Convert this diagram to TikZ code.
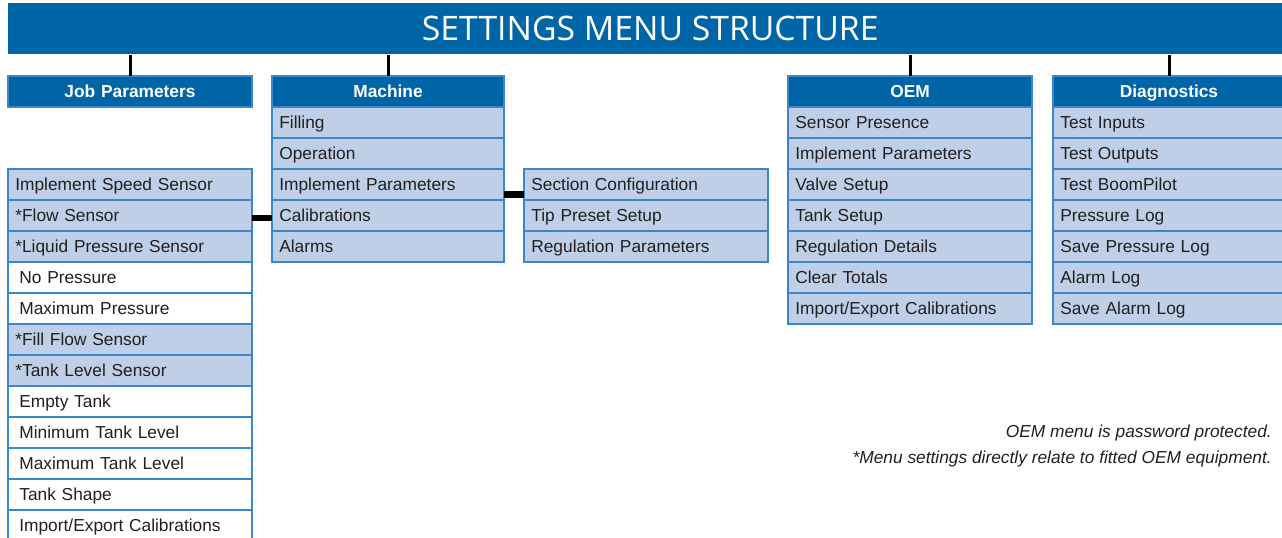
\documentclass[tikz,border=0pt]{standalone}
\usepackage{fontspec}
\setmainfont{Liberation Sans}
\newfontfamily\titlefont{Open Sans}
\usetikzlibrary{positioning}
\definecolor{sm@blue}{RGB}{0,101,166}
\definecolor{sm@edge}{RGB}{60,135,200}
\definecolor{sm@light}{RGB}{190,207,231}
\definecolor{sm@ink}{RGB}{35,31,32}

\begin{document}
\begin{tikzpicture}[x=0.75pt,y=-0.75pt,
  titlebar/.style={rectangle,fill=sm@blue,text=white,minimum width=963pt,
    minimum height=38.25pt,inner sep=0pt,font=\titlefont\fontsize{25.3}{30}\selectfont},
  hdr/.style={rectangle,fill=sm@blue,draw=sm@edge,line width=1.1pt,text=white,
    text width=172pt,inner xsep=5.5pt,inner ysep=0pt,minimum height=23.25pt,
    text height=9.4pt,text depth=0pt,
    outer sep=0pt,align=center,font=\fontsize{13}{15.6}\selectfont\bfseries},
  itm/.style={rectangle,fill=sm@light,draw=sm@edge,line width=1.1pt,text=sm@ink,
    text width=172pt,inner xsep=5.5pt,inner ysep=0pt,minimum height=23.25pt,
    text height=9.4pt,text depth=0pt,
    outer sep=0pt,align=left,font=\fontsize{13}{15.6}\selectfont},
  itmw/.style={itm,fill=white,execute at begin node={\hspace*{3pt}}},
  slim/.style={text width=163pt},
  stub/.style={black,line width=2.25pt},
  link/.style={black,line width=5pt},
  note/.style={inner sep=0pt,text=sm@ink,font=\fontsize{13}{15.6}\selectfont\itshape}
]
\clip (0,0) rectangle (1282,538);

\node[titlebar,anchor=north west] (title) at (8,3) {SETTINGS MENU STRUCTURE};

% job parameters
\node[hdr,anchor=north west] (jp) at (8,76) {Job Parameters};
\node[itm,anchor=north west] (jp1) at (8,169) {Implement Speed Sensor};
\node[itm,below=0pt of jp1] (jp2) {*Flow Sensor};
\node[itm,below=0pt of jp2] (jp3) {*Liquid Pressure Sensor};
\node[itmw,below=0pt of jp3] (jp4) {No Pressure};
\node[itmw,below=0pt of jp4] (jp5) {Maximum Pressure};
\node[itm,below=0pt of jp5] (jp6) {*Fill Flow Sensor};
\node[itm,below=0pt of jp6] (jp7) {*Tank Level Sensor};
\node[itmw,below=0pt of jp7] (jp8) {Empty Tank};
\node[itmw,below=0pt of jp8] (jp9) {Minimum Tank Level};
\node[itmw,below=0pt of jp9] (jp10) {Maximum Tank Level};
\node[itmw,below=0pt of jp10] (jp11) {Tank Shape};
\node[itmw,below=0pt of jp11] (jp12) {Import/Export Calibrations};

% machine
\node[hdr,slim,anchor=north west] (mach) at (272,76) {Machine};
\node[itm,slim,below=0pt of mach] (mach1) {Filling};
\node[itm,slim,below=0pt of mach1] (mach2) {Operation};
\node[itm,slim,below=0pt of mach2] (mach3) {Implement Parameters};
\node[itm,slim,below=0pt of mach3] (mach4) {Calibrations};
\node[itm,slim,below=0pt of mach4] (mach5) {Alarms};

% implement parameters submenu
\node[itm,anchor=north west] (sub1) at (524,169) {Section Configuration};
\node[itm,below=0pt of sub1] (sub2) {Tip Preset Setup};
\node[itm,below=0pt of sub2] (sub3) {Regulation Parameters};

% oem
\node[hdr,anchor=north west] (oem) at (788,76) {OEM};
\node[itm,below=0pt of oem] (oem1) {Sensor Presence};
\node[itm,below=0pt of oem1] (oem2) {Implement Parameters};
\node[itm,below=0pt of oem2] (oem3) {Valve Setup};
\node[itm,below=0pt of oem3] (oem4) {Tank Setup};
\node[itm,below=0pt of oem4] (oem5) {Regulation Details};
\node[itm,below=0pt of oem5] (oem6) {Clear Totals};
\node[itm,below=0pt of oem6] (oem7) {Import/Export Calibrations};

% diagnostics
\node[hdr,slim,anchor=north west] (diag) at (1053,76) {Diagnostics};
\node[itm,slim,below=0pt of diag] (diag1) {Test Inputs};
\node[itm,slim,below=0pt of diag1] (diag2) {Test Outputs};
\node[itm,slim,below=0pt of diag2] (diag3) {Test BoomPilot};
\node[itm,slim,below=0pt of diag3] (diag4) {Pressure Log};
\node[itm,slim,below=0pt of diag4] (diag5) {Save Pressure Log};
\node[itm,slim,below=0pt of diag5] (diag6) {Alarm Log};
\node[itm,slim,below=0pt of diag6] (diag7) {Save Alarm Log};

\draw[stub] (title.south -| jp.north) -- (jp.north);
\draw[stub] (title.south -| mach.north) -- (mach.north);
\draw[stub] (title.south -| oem.north) -- (oem.north);
\draw[stub] (title.south -| diag.north) -- (diag.north);

\draw[link] ([yshift=-2pt]jp2.east) -- ([yshift=-2pt]mach4.west);
\draw[link] ([yshift=-7.5pt]mach3.east) -- ([yshift=-7.5pt]sub1.west);

\node[note,anchor=base east] (note1) at (1272,437) {OEM menu is password protected.};
\node[note,anchor=base east] (note2) at ([yshift=-19.5pt]note1.base east)
  {*Menu settings directly relate to fitted OEM equipment.};
\end{tikzpicture}
\end{document}
